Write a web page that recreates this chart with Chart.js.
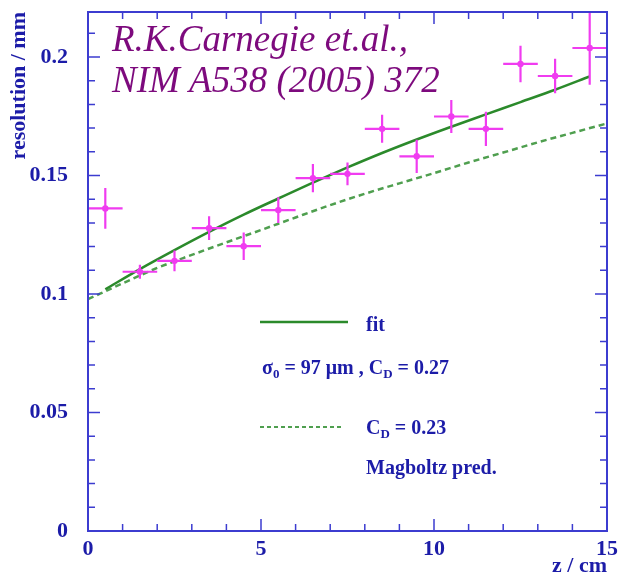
<!DOCTYPE html>
<html>
<head>
<meta charset="utf-8">
<script src="https://cdn.jsdelivr.net/npm/chart.js@4"></script>
<style>
  body { margin: 0; background: #fff; }
  #wrap { width: 622px; height: 587px; }
</style>
</head>
<body>
<div id="wrap"><canvas id="res" width="622" height="587"></canvas></div>
<script>
// drift-distance bins (cm) with measured resolution (mm)
const zBins = [0.5, 1.5, 2.5, 3.5, 4.5, 5.5, 6.5, 7.5, 8.5, 9.5, 10.5, 11.5, 12.5, 13.5, 14.5];
const zHalf = [0.5, 0.5, 0.5, 0.5, 0.5, 0.5, 0.5, 0.5, 0.5, 0.5, 0.5, 0.5, 0.5, 0.5, 0.5];
const resVals = [0.1361, 0.1094, 0.1140, 0.1278, 0.1202, 0.1354, 0.1489, 0.1507, 0.1697, 0.1581, 0.1749, 0.1697, 0.1971, 0.1920, 0.2038];
const resErr = [0.0086, 0.0030, 0.0044, 0.0050, 0.0058, 0.0054, 0.0060, 0.0048, 0.0059, 0.0070, 0.0070, 0.0072, 0.0077, 0.0073, 0.0155];

// fitted curve (sigma0 = 97 um, C_D = 0.27)
const fitZ = [0.5, 1.5, 2.5, 3.5, 4.5, 5.5, 6.5, 7.5, 8.5, 9.5, 10.5, 11.5, 12.5, 13.5, 14.5];
const fitVals = [0.1020, 0.1105, 0.1185, 0.1262, 0.1335, 0.1403, 0.1470, 0.1534, 0.1595, 0.1652, 0.1706, 0.1758, 0.1810, 0.1862, 0.1918];

// Magboltz prediction (C_D = 0.23)
const predZ = [0, 1, 2, 3, 4, 5, 6, 7, 8, 9, 10, 11, 12, 13, 14, 15];
const predVals = [0.0978, 0.1045, 0.1110, 0.1165, 0.1218, 0.1270, 0.1323, 0.1375, 0.1423, 0.1467, 0.1510, 0.1555, 0.1597, 0.1640, 0.1680, 0.1720];

const xTicks = [0, 5, 10, 15];
const yTicks = [0, 0.05, 0.1, 0.15, 0.2];

const BLUE = "#1c1ca8";
const FRAME = "#3c3cd0";
const MAGENTA = "#f03cf0";
const GREEN = "#2b8a2b";
const GREEN_DASH = "#4f9f4f";
const PURPLE = "#7d0a7d";
const SERIF = '"Liberation Serif", "Times New Roman", serif';

function toXY(xs, ys) {
  return xs.map((x, i) => ({ x, y: ys[i] }));
}

// frame + inward ticks on all four sides
const framePlugin = {
  id: "frameTicks",
  afterDraw(chart) {
    const { ctx, chartArea: a, scales } = chart;
    const sx = scales.x, sy = scales.y;
    ctx.save();
    ctx.strokeStyle = FRAME;
    ctx.lineWidth = 2;
    ctx.strokeRect(a.left, a.top, a.right - a.left, a.bottom - a.top);
    ctx.lineWidth = 1.5;
    ctx.beginPath();
    for (let v = 0; v <= 15; v++) {
      const px = sx.getPixelForValue(v);
      const len = v % 5 === 0 ? 12 : 7;
      ctx.moveTo(px, a.bottom); ctx.lineTo(px, a.bottom - len);
      ctx.moveTo(px, a.top); ctx.lineTo(px, a.top + len);
    }
    for (let k = 0; k <= 21; k++) {
      const py = sy.getPixelForValue(k / 100);
      const len = k % 5 === 0 ? 12 : 7;
      ctx.moveTo(a.left, py); ctx.lineTo(a.left + len, py);
      ctx.moveTo(a.right, py); ctx.lineTo(a.right - len, py);
    }
    ctx.stroke();
    ctx.restore();
  },
};

// error crosses for the measured points
const errorBarPlugin = {
  id: "errorBars",
  afterDatasetsDraw(chart) {
    const { ctx, scales } = chart;
    const sx = scales.x, sy = scales.y;
    ctx.save();
    ctx.strokeStyle = MAGENTA;
    ctx.lineWidth = 2.2;
    ctx.beginPath();
    zBins.forEach((z, i) => {
      const y = resVals[i];
      const py = sy.getPixelForValue(y);
      const px = sx.getPixelForValue(z);
      ctx.moveTo(sx.getPixelForValue(z - zHalf[i]), py);
      ctx.lineTo(sx.getPixelForValue(z + zHalf[i]), py);
      ctx.moveTo(px, sy.getPixelForValue(Math.min(y + resErr[i], sy.max)));
      ctx.lineTo(px, sy.getPixelForValue(y - resErr[i]));
    });
    ctx.stroke();
    ctx.fillStyle = MAGENTA;
    zBins.forEach((z, i) => {
      ctx.beginPath();
      ctx.arc(sx.getPixelForValue(z), sy.getPixelForValue(resVals[i]), 3.2, 0, Math.PI * 2);
      ctx.fill();
    });
    ctx.restore();
  },
};

// reference text and the hand-made legend
const notesPlugin = {
  id: "notes",
  afterDraw(chart) {
    const ctx = chart.ctx;
    ctx.save();
    ctx.fillStyle = PURPLE;
    ctx.font = "italic 37px " + SERIF;
    ctx.textBaseline = "alphabetic";
    ctx.fillText("R.K.Carnegie et.al.,", 112, 51);
    ctx.fillText("NIM A538 (2005) 372", 112, 92);

    // legend lines
    ctx.lineWidth = 2.5;
    ctx.strokeStyle = GREEN;
    ctx.beginPath(); ctx.moveTo(260, 322); ctx.lineTo(348, 322); ctx.stroke();
    ctx.lineWidth = 2;
    ctx.strokeStyle = GREEN_DASH;
    ctx.setLineDash([4, 3]);
    ctx.beginPath(); ctx.moveTo(260, 427); ctx.lineTo(343, 427); ctx.stroke();
    ctx.setLineDash([]);

    ctx.fillStyle = BLUE;
    const big = "bold 20px " + SERIF;
    const sub = "bold 13px " + SERIF;
    ctx.font = big;
    ctx.fillText("fit", 366, 331);

    // text with subscripts, drawn piece by piece
    function runs(x, y, parts) {
      parts.forEach(([txt, isSub]) => {
        ctx.font = isSub ? sub : big;
        ctx.fillText(txt, x, isSub ? y + 4 : y);
        x += ctx.measureText(txt).width;
      });
    }
    runs(262, 374, [["σ", false], ["0", true], [" = 97 μm , C", false], ["D", true], [" = 0.27", false]]);
    runs(366, 434, [["C", false], ["D", true], [" = 0.23", false]]);
    ctx.font = big;
    ctx.fillText("Magboltz pred.", 366, 474);
    ctx.restore();
  },
};

new Chart(document.getElementById("res"), {
  type: "scatter",
  data: {
    datasets: [
      {
        label: "fit",
        data: toXY(fitZ, fitVals),
        showLine: true,
        borderColor: GREEN,
        borderWidth: 2.5,
        pointRadius: 0,
        cubicInterpolationMode: "monotone",
      },
      {
        label: "Magboltz pred.",
        data: toXY(predZ, predVals),
        showLine: true,
        borderColor: GREEN_DASH,
        borderWidth: 2.5,
        borderDash: [6, 4],
        pointRadius: 0,
        cubicInterpolationMode: "monotone",
      },
      {
        label: "data",
        data: toXY(zBins, resVals),
        pointRadius: 0,
        showLine: false,
      },
    ],
  },
  options: {
    responsive: false,
    devicePixelRatio: 1,
    animation: false,
    layout: { padding: { left: 0, top: 12, right: 15, bottom: 0 } },
    plugins: { legend: { display: false }, tooltip: { enabled: false } },
    scales: {
      x: {
        type: "linear",
        min: 0,
        max: 15,
        afterFit(s) { s.height = 56; s.paddingLeft = 0; s.paddingRight = 0; },
        afterBuildTicks(s) { s.ticks = xTicks.map((v) => ({ value: v })); },
        grid: { display: false, drawTicks: false },
        border: { display: false },
        ticks: {
          color: BLUE,
          font: { family: SERIF, size: 22, weight: "bold" },
          padding: 5,
          maxRotation: 0,
        },
        title: {
          display: true,
          text: "z / cm",
          align: "end",
          color: BLUE,
          font: { family: SERIF, size: 22, weight: "bold" },
          padding: { top: 0, bottom: 7 },
        },
      },
      y: {
        type: "linear",
        min: 0,
        max: 0.219,
        afterFit(s) { s.width = 88; s.paddingTop = 0; s.paddingBottom = 0; },
        afterBuildTicks(s) { s.ticks = yTicks.map((v) => ({ value: v })); },
        grid: { display: false, drawTicks: false },
        border: { display: false },
        ticks: {
          color: BLUE,
          font: { family: SERIF, size: 22, weight: "bold" },
          padding: 20,
          callback: (v) => String(Number(v.toFixed(2))),
        },
        title: {
          display: true,
          text: "resolution / mm",
          align: "end",
          color: BLUE,
          font: { family: SERIF, size: 22, weight: "bold" },
          padding: { top: 6, bottom: 0 },
        },
      },
    },
  },
  plugins: [framePlugin, errorBarPlugin, notesPlugin],
});
</script>
</body>
</html>
